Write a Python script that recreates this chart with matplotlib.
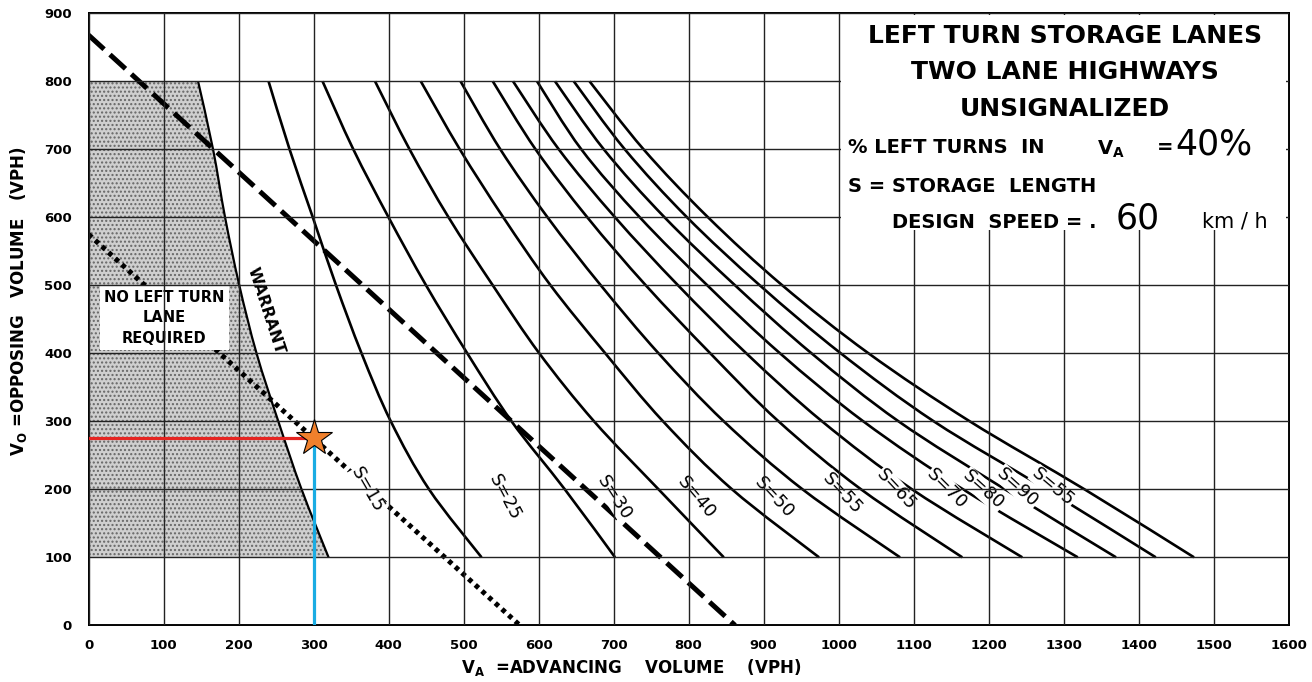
import matplotlib
matplotlib.use("Agg")
import matplotlib.pyplot as plt
import numpy as np
from matplotlib.patches import Rectangle, PathPatch
from matplotlib.path import Path

# opposing volume levels where each curve was read (VPH)
vo_levels = [800, 700, 600, 500, 400, 300, 200, 100]

# advancing volume of each storage curve at those levels
s_curves_va = [
    [240, 268, 299, 330, 364, 403, 454, 524],
    [312, 353, 400, 450, 505, 564, 635, 702],
    [382, 428, 480, 539, 601, 674, 760, 847],
    [443, 495, 553, 616, 689, 766, 858, 974],
    [496, 549, 612, 683, 760, 847, 952, 1082],
    [539, 596, 665, 743, 829, 920, 1030, 1165],
    [566, 627, 702, 786, 877, 978, 1098, 1245],
    [598, 657, 735, 825, 922, 1033, 1166, 1319],
    [622, 687, 768, 862, 964, 1080, 1222, 1370],
    [647, 715, 798, 895, 1003, 1127, 1277, 1423],
    [668, 740, 826, 925, 1040, 1175, 1328, 1474],
]

warrant_va = [146, 166, 182, 201, 224, 253, 284, 320]

# S=15 dotted line and heavy dashed line (end points)
s15_va = [0, 575]
s15_vo = [575, 0]
dash_va = [0, 862]
dash_vo = [868, 0]

# design point
point_va = 300
point_vo = 275

s_labels = ["S=15", "S=25", "S=30", "S=40", "S=50", "S=55",
            "S=65", "S=70", "S=80", "S=90", "S=55"]
label_va = [372, 555, 701, 811, 914, 1005, 1077, 1145, 1193, 1239, 1286]
label_vo = [199, 188, 188, 188, 188, 194, 199, 201, 199, 203, 203]
label_rot = [-60, -62, -57, -50, -47, -47, -47, -45, -42, -42, -40]

x_ticks = list(range(0, 1601, 100))
y_ticks = list(range(0, 901, 100))


def smooth_path(xs, ys):
    # Catmull-Rom through the read points, drawn as cubic Bezier segments
    pts = np.column_stack([xs, ys]).astype(float)
    n = len(pts)
    verts = [pts[0]]
    codes = [Path.MOVETO]
    for i in range(n - 1):
        p0 = pts[max(i - 1, 0)]
        p1 = pts[i]
        p2 = pts[i + 1]
        p3 = pts[min(i + 2, n - 1)]
        verts += [p1 + (p2 - p0) / 6, p2 - (p3 - p1) / 6, p2]
        codes += [Path.CURVE4] * 3
    return verts, codes


fig = plt.figure(figsize=(13.12, 6.82), dpi=100)
ax = fig.add_axes([0.0675, 0.0831, 0.9146, 0.8974])
ax.set_xlim(0, 1600)
ax.set_ylim(0, 900)

# shaded "no left turn lane" zone, bounded by the warrant curve
wv, wc = smooth_path(warrant_va, vo_levels)
shade_verts = [(0, vo_levels[0])] + wv + [(0, vo_levels[-1]), (0, vo_levels[0])]
shade_codes = [Path.MOVETO, Path.LINETO] + wc[1:] + [Path.LINETO, Path.CLOSEPOLY]
ax.add_patch(PathPatch(Path(shade_verts, shade_codes), facecolor="#cfcfcf",
                       edgecolor="#666666", hatch="....", linewidth=0,
                       zorder=1))

for xs in s_curves_va:
    v, c = smooth_path(xs, vo_levels)
    ax.add_patch(PathPatch(Path(v, c), fill=False, edgecolor="black",
                           lw=1.9, zorder=2))
ax.add_patch(PathPatch(Path(wv, wc), fill=False, edgecolor="black",
                       lw=1.6, zorder=2))
ax.plot(s15_va, s15_vo, color="black", lw=3.6,
        linestyle=(0, (0.9, 0.9)), zorder=2)
ax.plot(dash_va, dash_vo, color="black", lw=3.6,
        linestyle=(0, (4.2, 1.6)), zorder=2)

for txt, x, y, r in zip(s_labels, label_va, label_vo, label_rot):
    ax.text(x, y, txt, rotation=r, ha="center", va="center", fontsize=13,
            zorder=2.2, rotation_mode="anchor",
            bbox=dict(facecolor="white", edgecolor="none", pad=0.5))

ax.text(236, 462, "WARRANT", rotation=-72, ha="center", va="center",
        fontsize=11.5, fontweight="bold", zorder=2.2, rotation_mode="anchor")
ax.text(101, 452, "NO LEFT TURN\nLANE\nREQUIRED", ha="center", va="center",
        fontsize=10.5, fontweight="bold", linespacing=1.45, zorder=2.2,
        bbox=dict(facecolor="white", edgecolor="none", pad=3))

# grid
ax.set_xticks(x_ticks)
ax.set_yticks(y_ticks)
ax.set_xticklabels([str(v) for v in x_ticks], fontsize=9.5, fontweight="bold")
ax.set_yticklabels([str(v) for v in y_ticks], fontsize=9.5, fontweight="bold")
ax.tick_params(length=0)
ax.tick_params(axis="x", pad=10)
ax.tick_params(axis="y", pad=12)
ax.set_axisbelow(False)
ax.grid(True, color="#222222", lw=1.0)
for s in ax.spines.values():
    s.set_linewidth(1.4)

# title block
ax.add_patch(Rectangle((1003, 582), 594, 316, facecolor="white",
                       edgecolor="none", zorder=2.6))
for txt, y in [("LEFT TURN STORAGE LANES", 866), ("TWO LANE HIGHWAYS", 813),
               ("UNSIGNALIZED", 760)]:
    ax.text(1302, y, txt, ha="center", va="center", fontsize=18,
            fontweight="bold", zorder=3)
ax.text(1013, 702, "% LEFT TURNS  IN", ha="left", va="center",
        fontsize=14, fontweight="bold", zorder=3)
ax.text(1345, 700, r"V$_\mathbf{A}$", ha="left", va="center",
        fontsize=14, fontweight="bold", zorder=3)
ax.text(1425, 702, "=", ha="left", va="center",
        fontsize=14, fontweight="bold", zorder=3)
ax.text(1449, 707, "40%", ha="left", va="center", fontsize=25, zorder=3)
ax.text(1013, 645, "S = STORAGE  LENGTH", ha="left", va="center",
        fontsize=14, fontweight="bold", zorder=3)
ax.text(1071, 592, "DESIGN  SPEED = .", ha="left", va="center",
        fontsize=14, fontweight="bold", zorder=3)
ax.text(1370, 598, "60", ha="left", va="center", fontsize=25, zorder=3)
ax.text(1484, 594, "km / h", ha="left", va="center", fontsize=15, zorder=3)

# design point lines
ax.plot([0, point_va], [point_vo, point_vo], color="#e52421", lw=2.3, zorder=4)
ax.plot([point_va, point_va], [0, point_vo], color="#1aace3", lw=2.3, zorder=4)
ax.plot(point_va, point_vo, marker="*", markersize=27, color="#f0802c",
        markeredgecolor="black", markeredgewidth=0.8, zorder=5)

ax.set_xlabel(r"V$_\mathbf{A}$  =ADVANCING    VOLUME    (VPH)", fontsize=12,
              fontweight="bold")
ax.xaxis.set_label_coords(0.452, -0.052)
ax.set_ylabel(r"V$_\mathbf{O}$ =OPPOSING   VOLUME   (VPH)", fontsize=12,
              fontweight="bold")
ax.yaxis.set_label_coords(-0.05, 0.53)

fig.savefig("out.png", dpi=100)
